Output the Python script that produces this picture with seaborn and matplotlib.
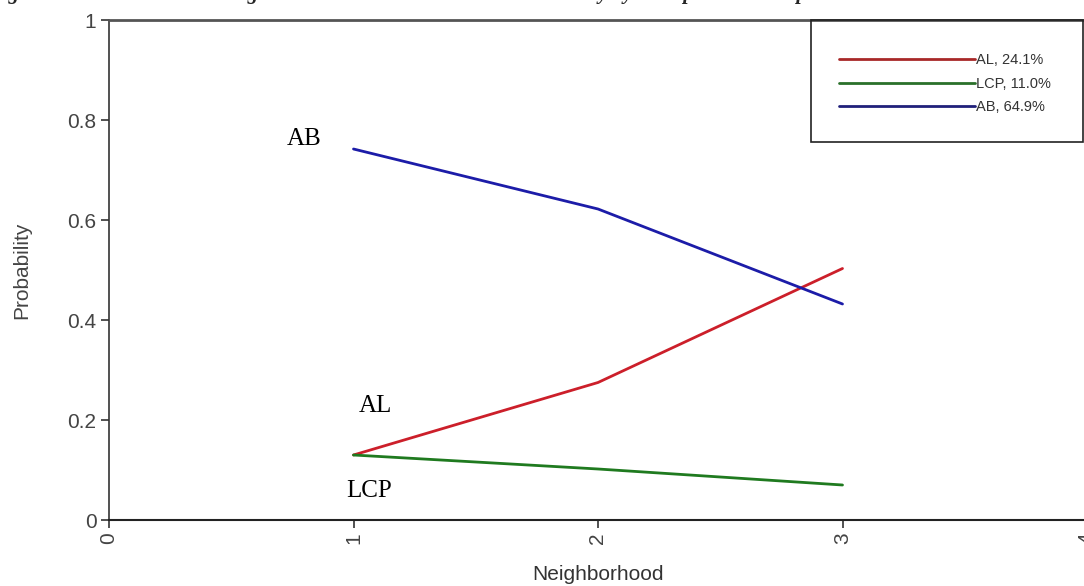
import numpy as np
import pandas as pd
import matplotlib
matplotlib.use("Agg")
import matplotlib.pyplot as plt
from matplotlib.lines import Line2D
from matplotlib.patches import Rectangle
import seaborn as sns

# ---- data ----
neighborhood = [1, 2, 3]
al_prob = [0.130, 0.275, 0.503]
lcp_prob = [0.130, 0.102, 0.070]
ab_prob = [0.742, 0.622, 0.432]
groups = ["AL", "LCP", "AB"]
legend_labels = ["AL, 24.1%", "LCP, 11.0%", "AB, 64.9%"]
xticks = [0, 1, 2, 3, 4]
yticks = [0, 0.2, 0.4, 0.6, 0.8, 1.0]
yticklabels = ["0", "0.2", "0.4", "0.6", "0.8", "1"]
title = "Figure 3: Predicted Mean Neighborhood Income Transition Probability by Group Membership"

line_colors = {"AL": "#cc1f2a", "LCP": "#1f7a1f", "AB": "#1c1ca8"}
legend_colors = ["#a82828", "#2a702a", "#20207a"]

df = pd.DataFrame({
    "Neighborhood": neighborhood * 3,
    "Probability": al_prob + lcp_prob + ab_prob,
    "Group": sum([[g] * len(neighborhood) for g in groups], []),
})

sns.set_theme(style="white")
plt.rcParams["font.family"] = ["Liberation Sans", "DejaVu Sans"]

W, H = 1084, 586
fig = plt.figure(figsize=(W / 100, H / 100), dpi=100)
ax = fig.add_axes([109 / W, 1 - 520 / H, (1087 - 109) / W, 500 / H])

sns.lineplot(data=df, x="Neighborhood", y="Probability", hue="Group",
             hue_order=groups, palette=line_colors, linewidth=2.0,
             legend=False, ax=ax)

ax.set_xlim(0, 4)
ax.set_ylim(0, 1)
ax.set_xticks(xticks)
ax.set_xticklabels([str(t) for t in xticks])
ax.set_yticks(yticks)
ax.set_yticklabels(yticklabels)

ax.tick_params(axis="both", which="major", direction="out", length=6,
               width=1.2, color="#333333", labelsize=15, labelcolor="#444444",
               bottom=True, left=True, pad=3)
ax.tick_params(axis="x", labelrotation=90)

ax.set_xlabel("Neighborhood", fontsize=15, color="#333333", labelpad=15)
ax.set_ylabel("Probability", fontsize=15, color="#444444", labelpad=26)

for side in ["left", "bottom", "top", "right"]:
    ax.spines[side].set_visible(True)
ax.spines["left"].set_color("#333333")
ax.spines["left"].set_linewidth(1.2)
ax.spines["bottom"].set_color("#222222")
ax.spines["bottom"].set_linewidth(1.5)
ax.spines["top"].set_color("#555555")
ax.spines["top"].set_linewidth(2.0)
ax.spines["right"].set_color("#555555")

# curve labels
serif = ["Liberation Serif", "DejaVu Serif"]
ax.text(0.728, 0.75, "AB", fontsize=18, family=serif, color="black", va="baseline")
ax.text(1.022, 0.216, "AL", fontsize=18, family=serif, color="black", va="baseline")
ax.text(0.969, 0.046, "LCP", fontsize=18, family=serif, color="black", va="baseline")

# legend
handles = [Line2D([0], [0], color=c, lw=2.0) for c in legend_colors]
fig.legend(handles, legend_labels, loc="upper left",
           bbox_to_anchor=(832 / W, 1 - 46 / H), frameon=False,
           handlelength=9.3, handletextpad=0.05, fontsize=10.5,
           labelspacing=0.65, borderpad=0, labelcolor="#333333")
fig.add_artist(Rectangle((811 / W, 1 - 142 / H), (1083 - 811) / W, (142 - 20) / H,
                         transform=fig.transFigure, fill=False,
                         edgecolor="#222222", lw=1.2))

# clipped title (only descenders visible in the reference)
fig.text(-11 / W, 1 + 1.5 / H, title, family=serif, fontweight="bold",
         fontstyle="italic", fontsize=15, va="baseline", ha="left")

fig.savefig("out.png", dpi=100)
